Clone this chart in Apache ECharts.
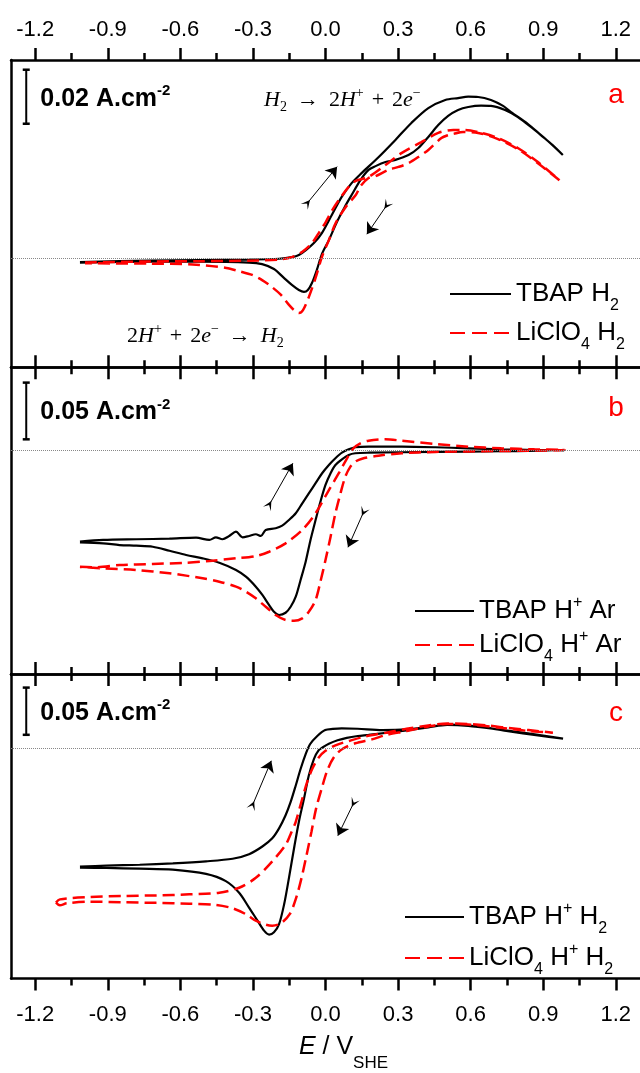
<!DOCTYPE html>
<html>
<head>
<meta charset="utf-8">
<script src="https://cdn.jsdelivr.net/npm/echarts@6/dist/echarts.min.js"></script>
<style>
  html, body { margin: 0; padding: 0; background: #fff; }
  #chart { width: 640px; height: 1073px; }
</style>
</head>
<body>
<div id="chart"></div>
<script>
// Potential axis, V vs SHE
const xMin = -1.3, xMax = 1.3;
const majorTicks = [-1.2, -0.9, -0.6, -0.3, 0, 0.3, 0.6, 0.9, 1.2];
const minorTicks = [-1.05, -0.75, -0.45, -0.15, 0.15, 0.45, 0.75, 1.05];

// Current density ranges (A cm^-2) for panels a, b, c
const yRangeA = [-0.0402, 0.0736];
const yRangeB = [-0.1969, 0.0735];
const yRangeC = [-0.2441, 0.0784];

// Scale bars: length (A cm^-2) and lower end of the bar
const scaleBarLen = [0.02, 0.05, 0.05];
const scaleBarBase = [0.05, 0.01, 0.014];
const scaleBarE = -1.237;

// Panel a: H2-saturated electrolytes, [E (V), j (A cm^-2)], forward then reverse sweep
const tbapH2 = [
  [-1.015,-0.0012],[-0.727,-0.0007],[-0.521,-0.0005],[-0.316,-0.0003],[-0.192,0.0000],[-0.139,0.0006],
  [-0.110,0.0014],[-0.081,0.0032],[-0.048,0.0058],[-0.015,0.0095],[0.026,0.0162],[0.067,0.0229],
  [0.108,0.0280],[0.149,0.0317],[0.219,0.0376],[0.289,0.0440],[0.355,0.0503],[0.425,0.0558],
  [0.495,0.0588],[0.548,0.0595],[0.590,0.0600],[0.631,0.0599],[0.684,0.0588],[0.734,0.0566],
  [0.767,0.0543],[0.837,0.0499],[0.890,0.0458],[0.939,0.0421],[0.981,0.0384],
  [0.919,0.0436],[0.849,0.0488],[0.795,0.0525],[0.742,0.0551],[0.684,0.0566],[0.643,0.0567],
  [0.590,0.0562],[0.548,0.0551],[0.507,0.0529],[0.466,0.0495],[0.425,0.0451],[0.384,0.0410],
  [0.343,0.0384],[0.289,0.0366],[0.248,0.0358],[0.207,0.0343],[0.178,0.0329],[0.145,0.0292],
  [0.108,0.0236],[0.079,0.0191],[0.047,0.0136],[0.014,0.0069],[-0.015,0.0017],[-0.036,-0.0042],
  [-0.056,-0.0090],[-0.073,-0.0116],[-0.089,-0.0123],[-0.110,-0.0116],[-0.139,-0.0097],[-0.172,-0.0071],
  [-0.213,-0.0038],[-0.262,-0.0020],[-0.316,-0.0014],[-0.521,-0.0011],[-0.727,-0.0011],[-1.015,-0.0014]
];
const liclo4H2 = [
  [-0.994,-0.0014],[-0.727,-0.0010],[-0.521,-0.0009],[-0.316,-0.0007],[-0.192,-0.0003],[-0.139,0.0006],
  [-0.097,0.0025],[-0.056,0.0058],[-0.028,0.0095],[0.001,0.0136],[0.026,0.0177],[0.055,0.0217],
  [0.096,0.0266],[0.125,0.0288],[0.178,0.0303],[0.248,0.0347],[0.314,0.0391],[0.396,0.0432],
  [0.466,0.0466],[0.528,0.0477],[0.577,0.0477],[0.631,0.0469],[0.713,0.0447],[0.795,0.0410],
  [0.878,0.0358],[0.967,0.0291],
  [0.878,0.0354],[0.795,0.0406],[0.713,0.0443],[0.631,0.0466],[0.569,0.0469],[0.528,0.0462],
  [0.507,0.0458],[0.479,0.0447],[0.425,0.0403],[0.384,0.0377],[0.343,0.0354],[0.302,0.0340],
  [0.260,0.0329],[0.207,0.0306],[0.178,0.0299],[0.145,0.0269],[0.125,0.0236],[0.083,0.0191],
  [0.042,0.0132],[0.014,0.0069],[-0.015,0.0006],[-0.040,-0.0068],[-0.069,-0.0142],[-0.093,-0.0190],
  [-0.110,-0.0201],[-0.130,-0.0190],[-0.151,-0.0171],[-0.184,-0.0134],[-0.221,-0.0105],[-0.262,-0.0079],
  [-0.303,-0.0060],[-0.357,-0.0046],[-0.410,-0.0034],[-0.549,-0.0021],[-0.727,-0.0018],[-0.994,-0.0017]
];

// Panel b: proton source under Ar
const tbapHAr = [
  [-1.015,-0.0802],[-0.919,-0.0787],[-0.782,-0.0781],[-0.645,-0.0776],[-0.535,-0.0767],[-0.480,-0.0787],
  [-0.453,-0.0764],[-0.426,-0.0781],[-0.398,-0.0752],[-0.370,-0.0714],[-0.343,-0.0764],[-0.316,-0.0752],
  [-0.288,-0.0737],[-0.267,-0.0752],[-0.247,-0.0699],[-0.206,-0.0684],[-0.179,-0.0661],[-0.151,-0.0611],
  [-0.123,-0.0552],[-0.096,-0.0464],[-0.069,-0.0376],[-0.041,-0.0287],[-0.014,-0.0199],[0.014,-0.0126],
  [0.041,-0.0067],[0.068,-0.0018],[0.096,0.0012],[0.123,0.0030],[0.178,0.0035],[0.315,0.0035],
  [0.453,0.0030],[0.590,0.0021],[0.727,0.0012],[0.864,0.0006],[0.988,0.0003],
  [0.727,-0.0005],[0.453,-0.0011],[0.178,-0.0018],[0.123,-0.0023],[0.096,-0.0038],[0.068,-0.0076],
  [0.041,-0.0126],[0.021,-0.0199],[0.000,-0.0302],[-0.021,-0.0450],[-0.041,-0.0611],[-0.062,-0.0787],
  [-0.082,-0.0979],[-0.103,-0.1140],[-0.123,-0.1287],[-0.144,-0.1376],[-0.165,-0.1429],[-0.192,-0.1449],
  [-0.213,-0.1420],[-0.233,-0.1361],[-0.261,-0.1272],[-0.288,-0.1199],[-0.329,-0.1111],[-0.370,-0.1052],
  [-0.439,-0.0988],[-0.508,-0.0949],[-0.576,-0.0920],[-0.645,-0.0882],[-0.714,-0.0847],[-0.782,-0.0838],
  [-0.851,-0.0832],[-0.919,-0.0817],[-1.015,-0.0808]
];
const liclo4HAr = [
  [-1.015,-0.1023],[-0.947,-0.1028],[-0.851,-0.1008],[-0.714,-0.0999],[-0.576,-0.0988],[-0.480,-0.0973],
  [-0.370,-0.0949],[-0.288,-0.0929],[-0.233,-0.0891],[-0.165,-0.0817],[-0.096,-0.0699],[-0.041,-0.0552],
  [0.014,-0.0347],[0.055,-0.0199],[0.089,-0.0067],[0.116,0.0021],[0.144,0.0065],[0.178,0.0088],
  [0.247,0.0101],[0.315,0.0088],[0.453,0.0059],[0.590,0.0035],[0.727,0.0021],[0.864,0.0012],[0.988,0.0006],
  [0.727,-0.0003],[0.453,-0.0011],[0.315,-0.0023],[0.219,-0.0044],[0.151,-0.0071],[0.123,-0.0097],
  [0.103,-0.0141],[0.082,-0.0229],[0.062,-0.0376],[0.041,-0.0552],[0.021,-0.0758],[0.000,-0.0964],
  [-0.021,-0.1155],[-0.041,-0.1317],[-0.069,-0.1420],[-0.096,-0.1478],[-0.130,-0.1499],[-0.165,-0.1493],
  [-0.206,-0.1449],[-0.247,-0.1376],[-0.288,-0.1302],[-0.329,-0.1243],[-0.370,-0.1199],[-0.439,-0.1155],
  [-0.508,-0.1125],[-0.645,-0.1081],[-0.782,-0.1052],[-0.919,-0.1037],[-1.015,-0.1028]
];

// Panel c: proton source under H2
const tbapHH2 = [
  [-1.015,-0.1257],[-0.905,-0.1246],[-0.768,-0.1236],[-0.631,-0.1221],[-0.494,-0.1200],[-0.384,-0.1173],
  [-0.316,-0.1124],[-0.261,-0.1043],[-0.220,-0.0956],[-0.192,-0.0851],[-0.165,-0.0712],[-0.144,-0.0571],
  [-0.123,-0.0397],[-0.103,-0.0222],[-0.082,-0.0065],[-0.064,0.0040],[-0.034,0.0127],[-0.001,0.0190],
  [0.030,0.0202],[0.067,0.0208],[0.133,0.0204],[0.235,0.0190],[0.335,0.0197],[0.436,0.0225],
  [0.503,0.0249],[0.587,0.0239],[0.672,0.0213],[0.754,0.0179],[0.878,0.0134],[0.982,0.0100],
  [0.837,0.0155],[0.713,0.0197],[0.590,0.0234],[0.503,0.0244],[0.425,0.0218],[0.335,0.0187],
  [0.252,0.0162],[0.178,0.0139],[0.133,0.0127],[0.088,0.0108],[0.050,0.0082],[0.014,0.0045],
  [-0.011,0.0008],[-0.028,-0.0023],[-0.048,-0.0117],[-0.069,-0.0292],[-0.089,-0.0537],[-0.110,-0.0781],
  [-0.130,-0.1061],[-0.151,-0.1375],[-0.171,-0.1655],[-0.192,-0.1865],[-0.213,-0.1952],[-0.233,-0.1976],
  [-0.254,-0.1934],[-0.281,-0.1829],[-0.316,-0.1690],[-0.357,-0.1533],[-0.412,-0.1410],[-0.494,-0.1333],
  [-0.631,-0.1288],[-0.768,-0.1278],[-0.905,-0.1270],[-1.015,-0.1268]
];
const liclo4HH2 = [
  [-1.114,-0.1637],[-1.098,-0.1603],[-0.974,-0.1578],[-0.837,-0.1567],[-0.700,-0.1561],[-0.563,-0.1550],
  [-0.439,-0.1532],[-0.357,-0.1480],[-0.288,-0.1375],[-0.220,-0.1200],[-0.165,-0.1026],[-0.143,-0.0904],
  [-0.123,-0.0781],[-0.096,-0.0537],[-0.076,-0.0362],[-0.055,-0.0222],[-0.028,-0.0100],[0.000,-0.0030],
  [0.041,0.0029],[0.096,0.0074],[0.166,0.0124],[0.251,0.0162],[0.335,0.0204],[0.425,0.0239],
  [0.503,0.0260],[0.590,0.0255],[0.671,0.0239],[0.754,0.0213],[0.839,0.0190],[0.940,0.0162],
  [0.835,0.0182],[0.713,0.0218],[0.590,0.0249],[0.503,0.0255],[0.425,0.0229],[0.335,0.0179],
  [0.252,0.0139],[0.192,0.0092],[0.123,0.0050],[0.068,-0.0013],[0.034,-0.0100],[0.007,-0.0240],
  [-0.016,-0.0432],[-0.039,-0.0642],[-0.058,-0.0886],[-0.078,-0.1131],[-0.099,-0.1375],[-0.121,-0.1585],
  [-0.148,-0.1760],[-0.185,-0.1857],[-0.220,-0.1882],[-0.247,-0.1871],[-0.288,-0.1829],[-0.329,-0.1760],
  [-0.384,-0.1697],[-0.453,-0.1661],[-0.563,-0.1648],[-0.700,-0.1640],[-0.837,-0.1634],[-0.974,-0.1627],
  [-1.070,-0.1645],[-1.098,-0.1666],[-1.114,-0.1637]
];

// Sweep-direction arrows, [tail, head] in data coordinates
const arrowsA = [[[-0.076, 0.0205], [0.048, 0.0341]], [[0.254, 0.0199], [0.171, 0.0091]]];
const arrowsB = [[[-0.233, -0.0479], [-0.135, -0.0111]], [[0.158, -0.0538], [0.093, -0.0852]]];
const arrowsC = [[[-0.302, -0.0607], [-0.224, -0.0135]], [[0.117, -0.0579], [0.051, -0.0928]]];

const panelLetters = ['a', 'b', 'c'];
const seriesNames = [
  ['TBAP H2', 'LiClO4 H2'],
  ['TBAP H+ Ar', 'LiClO4 H+ Ar'],
  ['TBAP H+ H2', 'LiClO4 H+ H2']
];
const legendText = {
  'TBAP H2': '{m|TBAP H}{sb|2}',
  'LiClO4 H2': '{m|LiClO}{sb|4}{m| H}{sb|2}',
  'TBAP H+ Ar': '{m|TBAP H}{sp|+}{m| Ar}',
  'LiClO4 H+ Ar': '{m|LiClO}{sb|4}{m| H}{sp|+}{m| Ar}',
  'TBAP H+ H2': '{m|TBAP H}{sp|+}{m| H}{sb|2}',
  'LiClO4 H+ H2': '{m|LiClO}{sb|4}{m| H}{sp|+}{m| H}{sb|2}'
};

const SANS = 'Liberation Sans, Arial, Helvetica, sans-serif';
const SERIF = 'Liberation Serif, Times New Roman, serif';
const RED = '#ff0000';

const grids = [
  { left: 11, right: -3, top: 60, height: 307.3 },
  { left: 11, right: -3, top: 367.3, height: 306.7 },
  { left: 11, right: -3, top: 674, height: 307.7 }
];
const yRanges = [yRangeA, yRangeB, yRangeC];
const curves = [[tbapH2, liclo4H2], [tbapHAr, liclo4HAr], [tbapHH2, liclo4HH2]];
const arrows = [arrowsA, arrowsB, arrowsC];

function xAxesFor(gridIndex, position, showLabels, extra) {
  const frame = { color: '#000', width: 2.5 };
  const major = Object.assign({
    type: 'value', gridIndex, position, min: xMin, max: xMax,
    splitLine: { show: false },
    axisLine: { show: true, onZero: false, lineStyle: frame },
    axisTick: { show: true, inside: false, length: 12, customValues: majorTicks, lineStyle: frame },
    axisLabel: {
      show: showLabels, customValues: majorTicks,
      formatter: v => Number(v).toFixed(1),
      fontFamily: SANS, fontSize: 22, color: '#000',
      margin: position === 'top' ? 19 : 25
    }
  }, extra || {});
  const minor = {
    type: 'value', gridIndex, position, min: xMin, max: xMax,
    splitLine: { show: false },
    axisLine: { show: false, onZero: false },
    axisTick: { show: true, inside: false, length: 7, customValues: minorTicks, lineStyle: frame },
    axisLabel: { show: false }
  };
  return [major, minor];
}

const xAxis = [];
const yAxis = [];
const series = [];
const legend = [];

const legendRich = {
  m: { fontFamily: SANS, fontSize: 26, lineHeight: 32, color: '#000' },
  sb: { fontFamily: SANS, fontSize: 16, lineHeight: 32, height: 8, verticalAlign: 'bottom', color: '#000' },
  sp: { fontFamily: SANS, fontSize: 16, lineHeight: 32, height: 16, verticalAlign: 'top', color: '#000' }
};
const legendPlacement = [
  { left: 449, top: 278, itemGap: 3, itemWidth: 61 },
  { left: 414, top: 595, itemGap: 2, itemWidth: 59 },
  { left: 404, top: 901, itemGap: 5, itemWidth: 59 }
];

const scaleOffsets = [[0, 2], [0, 1.5], [0, 1.5]];

for (let p = 0; p < 3; p++) {
  const bottomLabels = p === 2;
  const topLabels = p === 0;
  const axisBase = xAxis.length;
  const nameOpts = bottomLabels ? {
    name: '{it|E}{m| / V}{sb|SHE}',
    nameLocation: 'middle',
    nameGap: 52,
    nameTextStyle: {
      fontFamily: SANS, fontSize: 25, lineHeight: 34, color: '#000', padding: [0, 0, 0, 36],
      rich: {
        it: { fontFamily: SANS, fontSize: 25, fontStyle: 'italic', lineHeight: 34, color: '#000' },
        m: { fontFamily: SANS, fontSize: 25, lineHeight: 34, color: '#000' },
        sb: { fontFamily: SANS, fontSize: 17, lineHeight: 34, height: 2, verticalAlign: 'bottom', color: '#000' }
      }
    }
  } : null;
  xAxis.push(...xAxesFor(p, 'bottom', bottomLabels, nameOpts));
  xAxis.push(...xAxesFor(p, 'top', topLabels));
  yAxis.push({
    type: 'value', gridIndex: p, position: 'left', min: yRanges[p][0], max: yRanges[p][1],
    splitLine: { show: false },
    axisLine: { show: true, onZero: false, lineStyle: { color: '#000', width: 2.5 } },
    axisTick: { show: false }, axisLabel: { show: false }
  });

  const [blackData, redData] = curves[p];
  const [blackName, redName] = seriesNames[p];

  series.push({
    type: 'line', name: blackName, xAxisIndex: axisBase, yAxisIndex: p,
    data: blackData, symbol: 'none', smooth: 0.3, z: 3,
    lineStyle: { color: '#000', width: 2.2 }, itemStyle: { color: '#000' },
    markLine: {
      silent: true, animation: false,
      label: { show: false },
      lineStyle: { type: 'solid', color: '#000', width: 1 },
      data: arrows[p].map(a => [
        { coord: a[0], symbol: 'path://M0,10L6,0L0,5L-6,0Z', symbolSize: 9 },
        { coord: a[1], symbol: 'arrow', symbolSize: 11 }
      ])
    }
  });
  series.push({
    type: 'line', name: redName, xAxisIndex: axisBase, yAxisIndex: p,
    data: redData, symbol: 'none', smooth: 0.3, z: 4,
    lineStyle: { color: RED, width: 2.5, type: [12, 6] }, itemStyle: { color: RED },
    markLine: {
      silent: true, animation: false, symbol: 'none',
      label: { show: false },
      lineStyle: { type: 'dotted', color: '#888', width: 1 },
      data: [{ yAxis: 0 }]
    }
  });

  // Scale bar with its value label
  const len = scaleBarLen[p], base = scaleBarBase[p];
  series.push({
    type: 'line', name: 'scale-' + panelLetters[p], xAxisIndex: axisBase, yAxisIndex: p,
    silent: true, z: 5, legendHoverLink: false,
    symbol: 'rect', symbolSize: [7, 2.5], showSymbol: true, showAllSymbol: true,
    lineStyle: { color: '#000', width: 2 }, itemStyle: { color: '#000' },
    data: [
      [scaleBarE, base],
      {
        value: [scaleBarE, base + len / 2], symbol: 'circle', symbolSize: 0.1,
        label: {
          show: true, position: 'right', distance: 14, offset: scaleOffsets[p],
          formatter: () => '{bv|' + String(len) + ' A.cm}{sv|-2}',
          fontFamily: SANS, fontSize: 25, fontWeight: 'bold', lineHeight: 30, color: '#000',
          rich: {
            bv: { fontFamily: SANS, fontSize: 25, fontWeight: 'bold', lineHeight: 30, color: '#000' },
            sv: { fontFamily: SANS, fontSize: 15, fontWeight: 'bold', lineHeight: 30, height: 14, verticalAlign: 'top', color: '#000' }
          }
        }
      },
      [scaleBarE, base + len]
    ]
  });

  const lp = legendPlacement[p];
  legend.push({
    show: true, orient: 'vertical', left: lp.left, top: lp.top, padding: 0,
    itemGap: lp.itemGap, itemWidth: lp.itemWidth, itemHeight: 14,
    selectedMode: false,
    itemStyle: { opacity: 0 },
    data: [{ name: blackName }, { name: redName, lineStyle: { type: [15, 7] } }],
    formatter: n => legendText[n],
    textStyle: { fontFamily: SANS, fontSize: 26, lineHeight: 32, color: '#000', rich: legendRich }
  });
}

const eqRich = {
  i: { fontFamily: SERIF, fontSize: 22, fontStyle: 'italic', lineHeight: 28, fill: '#000' },
  n: { fontFamily: SERIF, fontSize: 22, lineHeight: 28, fill: '#000' },
  ar: { fontFamily: SERIF, fontSize: 22, lineHeight: 28, padding: [0, 10, 0, 10], fill: '#000' },
  op: { fontFamily: SERIF, fontSize: 22, lineHeight: 28, padding: [0, 8, 0, 8], fill: '#000' },
  sb: { fontFamily: SERIF, fontSize: 14, lineHeight: 28, height: 13, verticalAlign: 'bottom', fill: '#000' },
  sp: { fontFamily: SERIF, fontSize: 14, lineHeight: 28, height: 14, verticalAlign: 'top', fill: '#000' }
};
const oxidation = '{i|H}{sb|2}{ar|\u2192}{n|2}{i|H}{sp|+}{op|+}{n|2}{i|e}{sp|\u2212}';
const reduction = '{n|2}{i|H}{sp|+}{op|+}{n|2}{i|e}{sp|\u2212}{ar|\u2192}{i|H}{sb|2}';

const letterY = [95.3, 408.6, 713.6];
const graphic = panelLetters.map((ch, i) => ({
  type: 'text', x: 616, y: letterY[i], z: 10,
  style: { text: ch, fontFamily: SANS, fontSize: 28, fill: RED, align: 'center', verticalAlign: 'middle' }
}));
graphic.push({
  type: 'text', x: 264, y: 100, z: 10,
  style: { text: oxidation, fontFamily: SERIF, fontSize: 22, lineHeight: 28, fill: '#000', align: 'left', verticalAlign: 'middle', rich: eqRich }
});
graphic.push({
  type: 'text', x: 127, y: 336, z: 10,
  style: { text: reduction, fontFamily: SERIF, fontSize: 22, lineHeight: 28, fill: '#000', align: 'left', verticalAlign: 'middle', rich: eqRich }
});

const chart = echarts.init(document.getElementById('chart'), null, { renderer: 'canvas' });
chart.setOption({
  animation: false,
  backgroundColor: '#fff',
  grid: grids,
  xAxis, yAxis, series, legend, graphic
});
</script>
</body>
</html>
